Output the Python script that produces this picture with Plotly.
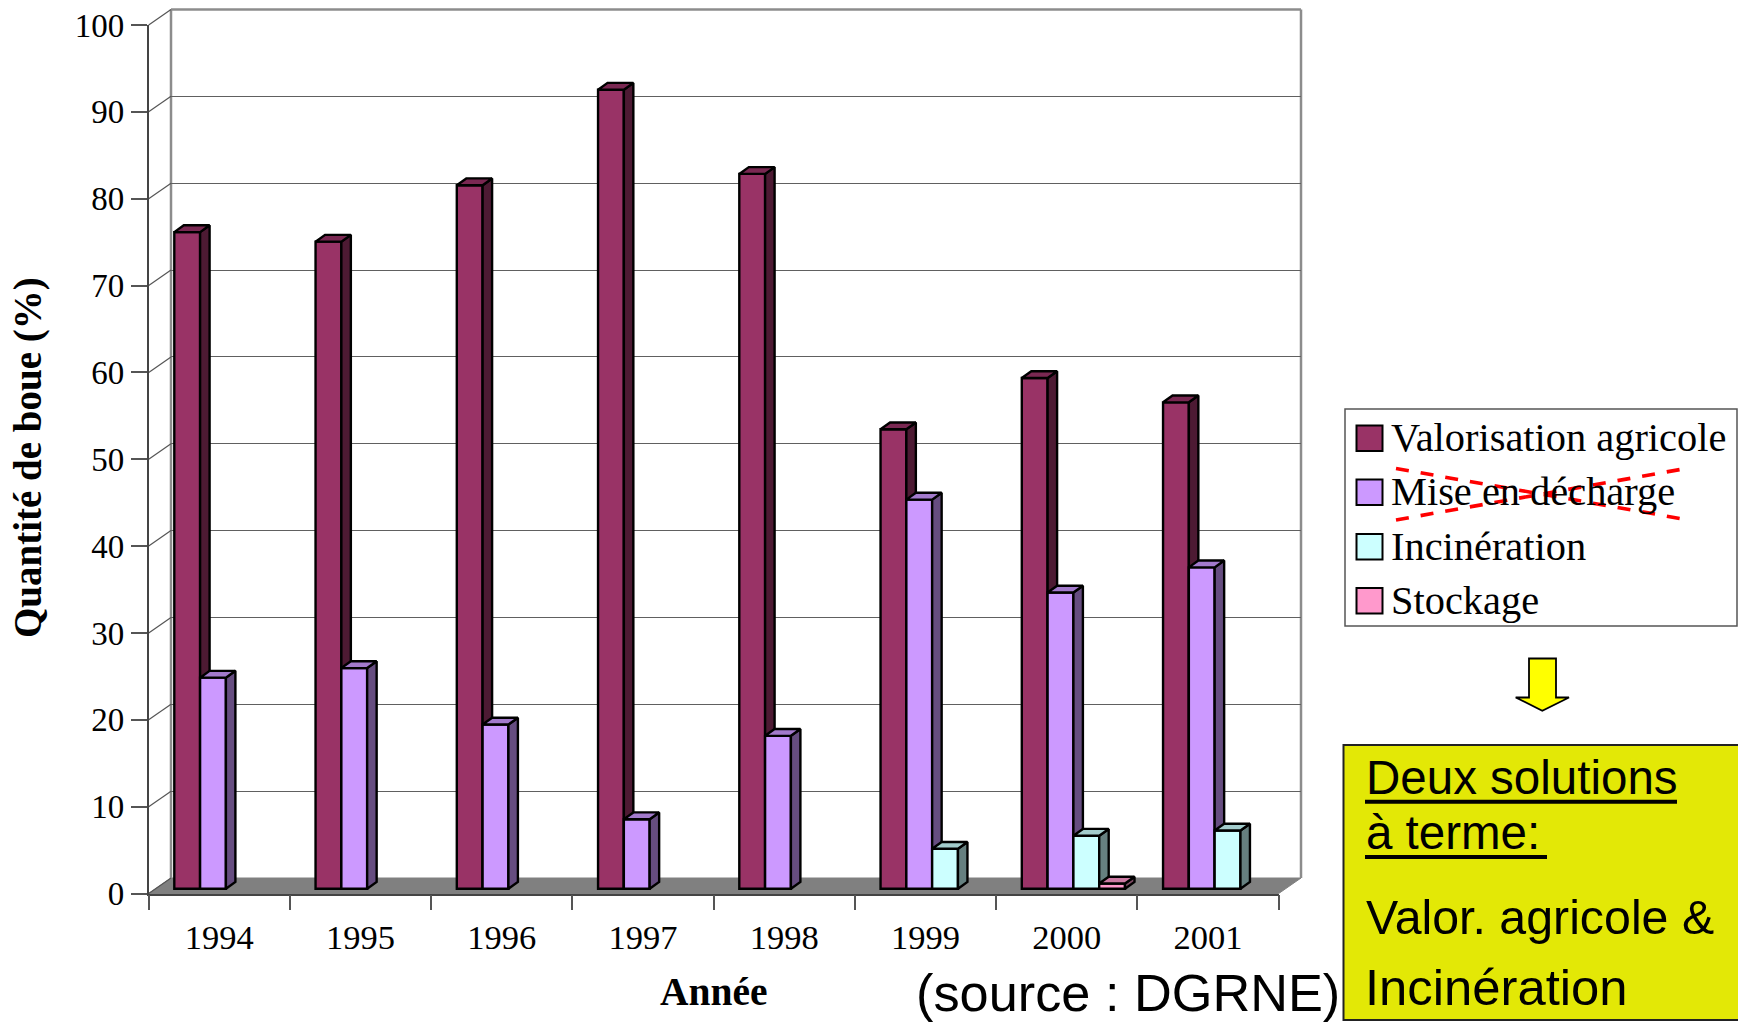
import plotly.graph_objects as go

W, H = 1738, 1022
years = ["1994", "1995", "1996", "1997", "1998", "1999", "2000", "2001"]
series_names = ["Valorisation agricole", "Mise en décharge", "Incinération", "Stockage"]
valorisation = [75.6, 74.5, 81.0, 92.0, 82.3, 52.9, 58.8, 56.0]
decharge = [24.3, 25.4, 18.9, 8.0, 17.6, 44.8, 34.1, 37.0]
incineration = [None, None, None, None, None, 4.6, 6.1, 6.7]
stockage = [None, None, None, None, None, None, 0.6, None]
all_values = [valorisation, decharge, incineration, stockage]
front_colors = ["#993366", "#CC99FF", "#CCFFFF", "#FF99CC"]
top_colors = ["#7A2852", "#A37ACC", "#A3CCCC", "#CC7AA3"]
side_colors = ["#4D1A33", "#664D80", "#668080", "#804D66"]
y_ticks = list(range(0, 101, 10))

# frame geometry (pixels)
L, R, T, B = 148.7, 1278.7, 25.0, 893.5
DX, DY = 22.3, 15.5
CAT_PX = (R - L) / 8
UNIT_PX = (B - T) / 100
BAR_W = 25.8 / CAT_PX
BAR_START = 25.6 / CAT_PX
BASE = 4.8 / UNIT_PX
DEPTH_X = 9.5 / CAT_PX
DEPTH_Y = 6.8 / UNIT_PX

px = lambda v: v / W
py = lambda v: 1 - v / H
SERIF = "Liberation Serif, Times New Roman, serif"
HAND = "Liberation Sans, Arial, sans-serif"

fig = go.Figure()

# back wall subplot (gridlines only), drawn first
fig.add_trace(go.Scatter(x=[0], y=[0], mode="none", xaxis="x", yaxis="y", showlegend=False, hoverinfo="skip"))
# category labels on the front axis
fig.add_trace(go.Scatter(x=years, y=[0] * 8, mode="none", xaxis="x2", yaxis="y2", showlegend=False, hoverinfo="skip"))

for k, vals in enumerate(all_values):
    num = k + 3
    lefts = [i - 0.5 + BAR_START + k * BAR_W for i in range(8)]
    fig.add_trace(go.Bar(
        x=[l + BAR_W / 2 for l in lefts], y=vals, base=BASE, width=BAR_W, name=series_names[k],
        marker=dict(color=front_colors[k], line=dict(color="black", width=2.4)),
        xaxis=f"x{num}", yaxis=f"y{num}", showlegend=False))
    top_x, top_y, side_x, side_y = [], [], [], []
    for l, v in zip(lefts, vals):
        if v is None:
            continue
        r = l + BAR_W
        t = v + BASE
        top_x += [l, r, r + DEPTH_X, l + DEPTH_X, l, None]
        top_y += [t, t, t + DEPTH_Y, t + DEPTH_Y, t, None]
        side_x += [r, r + DEPTH_X, r + DEPTH_X, r, r, None]
        side_y += [BASE, BASE + DEPTH_Y, t + DEPTH_Y, t, BASE, None]
    for xs, ys, c in ((side_x, side_y, side_colors[k]), (top_x, top_y, top_colors[k])):
        fig.add_trace(go.Scatter(x=xs, y=ys, mode="lines", fill="toself", fillcolor=c,
                                 line=dict(color="black", width=2.4), xaxis=f"x{num}", yaxis=f"y{num}",
                                 showlegend=False, hoverinfo="skip"))

shapes, notes = [], []


def poly(points, fill, line="black", width=1.5, layer="above"):
    path = "M" + "L".join(f"{px(a)},{py(b)}" for a, b in points) + "Z"
    shapes.append(dict(type="path", path=path, xref="paper", yref="paper", fillcolor=fill,
                       line=dict(color=line, width=width), layer=layer))


def seg(x0, y0, x1, y1, color, width, dash="solid", layer="above"):
    shapes.append(dict(type="line", xref="paper", yref="paper", x0=px(x0), y0=py(y0), x1=px(x1), y1=py(y1),
                       line=dict(color=color, width=width, dash=dash), layer=layer))


def text(s, x, y, size, family, **kw):
    notes.append(dict(text=s, x=px(x), y=py(y), xref="paper", yref="paper", showarrow=False, xanchor="left",
                      yanchor="middle", font=dict(size=size, family=family, color="black"), **kw))


# floor, wall edges, diagonals
poly([(L, B), (R, B), (R + DX, B - DY), (L + DX, B - DY)], "#808080", "#808080", 1, "below")
seg(L + DX, T - DY, L + DX, B - DY, "#8C8C8C", 2.5, layer="below")
seg(R + DX, T - DY, R + DX, B - DY, "#8C8C8C", 2.5, layer="below")
seg(L + DX, T - DY, R + DX, T - DY, "#8C8C8C", 2.5, layer="below")
for t in y_ticks:
    yy = B - t * UNIT_PX
    seg(L, yy, L + DX, yy - DY, "#555555", 1.2, layer="below")

# legend box
poly([(1345, 409), (1737, 409), (1737, 626), (1345, 626)], "white", "#555555", 1.5)
swatch_tops = [425.5, 479.5, 534, 588]
for name, c, yt in zip(series_names, front_colors, swatch_tops):
    poly([(1356.5, yt), (1382.5, yt), (1382.5, yt + 25.5), (1356.5, yt + 25.5)], c, "black", 2)
    text(name, 1389, yt + 12, 40.4, SERIF)
seg(1396, 468.5, 1683, 519, "#FF0000", 3.6, dash="13px,12px")
seg(1396, 520, 1683, 469, "#FF0000", 3.6, dash="13px,12px")

# arrow
poly([(1529, 658.5), (1556, 658.5), (1556, 697.5), (1569, 697.5), (1542.3, 710.7), (1515.7, 697.5), (1529, 697.5)],
     "#FFFF00", "black", 1.8)

# conclusion box
poly([(1343.5, 745), (1745, 745), (1745, 1020), (1343.5, 1020)], "#E3E806", "#222222", 2)
text("Deux solutions", 1364, 777.5, 47.5, HAND)
seg(1365, 801.7, 1677, 801.7, "black", 4)
text("à terme:", 1364, 832.5, 47.5, HAND)
seg(1365, 857, 1547, 857, "black", 4)
text("Valor. agricole &amp;", 1364, 916.6, 48.3, HAND)
text("Incinération", 1363, 987, 50.8, HAND)
text("(source : DGRNE)", 914, 993, 52.3, HAND)

# axis titles
notes.append(dict(text="<b>Quantité de boue (%)</b>", x=px(28), y=py(458), xref="paper", yref="paper", showarrow=False,
                  xanchor="center", yanchor="middle", textangle=-90, font=dict(size=39, family=SERIF, color="black")))
notes.append(dict(text="<b>Année</b>", x=px(714), y=py(992), xref="paper", yref="paper", showarrow=False,
                  xanchor="center", yanchor="middle", font=dict(size=39.5, family=SERIF, color="black")))

num_range = [-0.5, 7.5]
xdom = [px(L), px(R)]
ydom = [py(B), py(T)]
layout = dict(
    width=W, height=H, margin=dict(l=0, r=0, t=0, b=0, pad=0), paper_bgcolor="white", plot_bgcolor="rgba(0,0,0,0)",
    barmode="overlay", showlegend=False, shapes=shapes, annotations=notes,
    font=dict(family=SERIF, color="black"),
    xaxis=dict(domain=[px(L + DX), px(R + DX)], range=num_range, visible=False, anchor="y", automargin=False),
    yaxis=dict(domain=[py(B - DY), py(T - DY)], range=[0, 100], anchor="x", dtick=10, showgrid=True, gridcolor="#606060",
               gridwidth=1, showticklabels=False, ticks="", showline=False, zeroline=False, automargin=False),
    xaxis2=dict(domain=xdom, type="category", categoryorder="array", categoryarray=years, range=num_range, anchor="y2",
                tickson="boundaries", ticks="outside", ticklen=15, tickwidth=1.5, tickcolor="#555555", showline=True,
                linecolor="#444444", linewidth=1.5, showgrid=False, tickfont=dict(size=34.5, family=SERIF, color="black"),
                ticklabelstandoff=12, automargin=False),
    yaxis2=dict(domain=ydom, range=[0, 100], anchor="x2", tickmode="array", tickvals=y_ticks, ticks="outside", ticklen=16,
                tickwidth=1.5, tickcolor="#555555", showline=True, linecolor="#444444", linewidth=1.5, showgrid=False,
                zeroline=False, tickfont=dict(size=33, family=SERIF, color="black"), automargin=False),
)
for n in (3, 4, 5, 6):
    layout[f"xaxis{n}"] = dict(overlaying="x2", range=num_range, visible=False, anchor=f"y{n}")
    layout[f"yaxis{n}"] = dict(overlaying="y2", range=[0, 100], visible=False, anchor=f"x{n}")
fig.update_layout(**layout)
fig.write_html("out.html", post_script="document.body.style.margin='0';document.body.style.overflow='hidden';",
               config=dict(displayModeBar=False))
